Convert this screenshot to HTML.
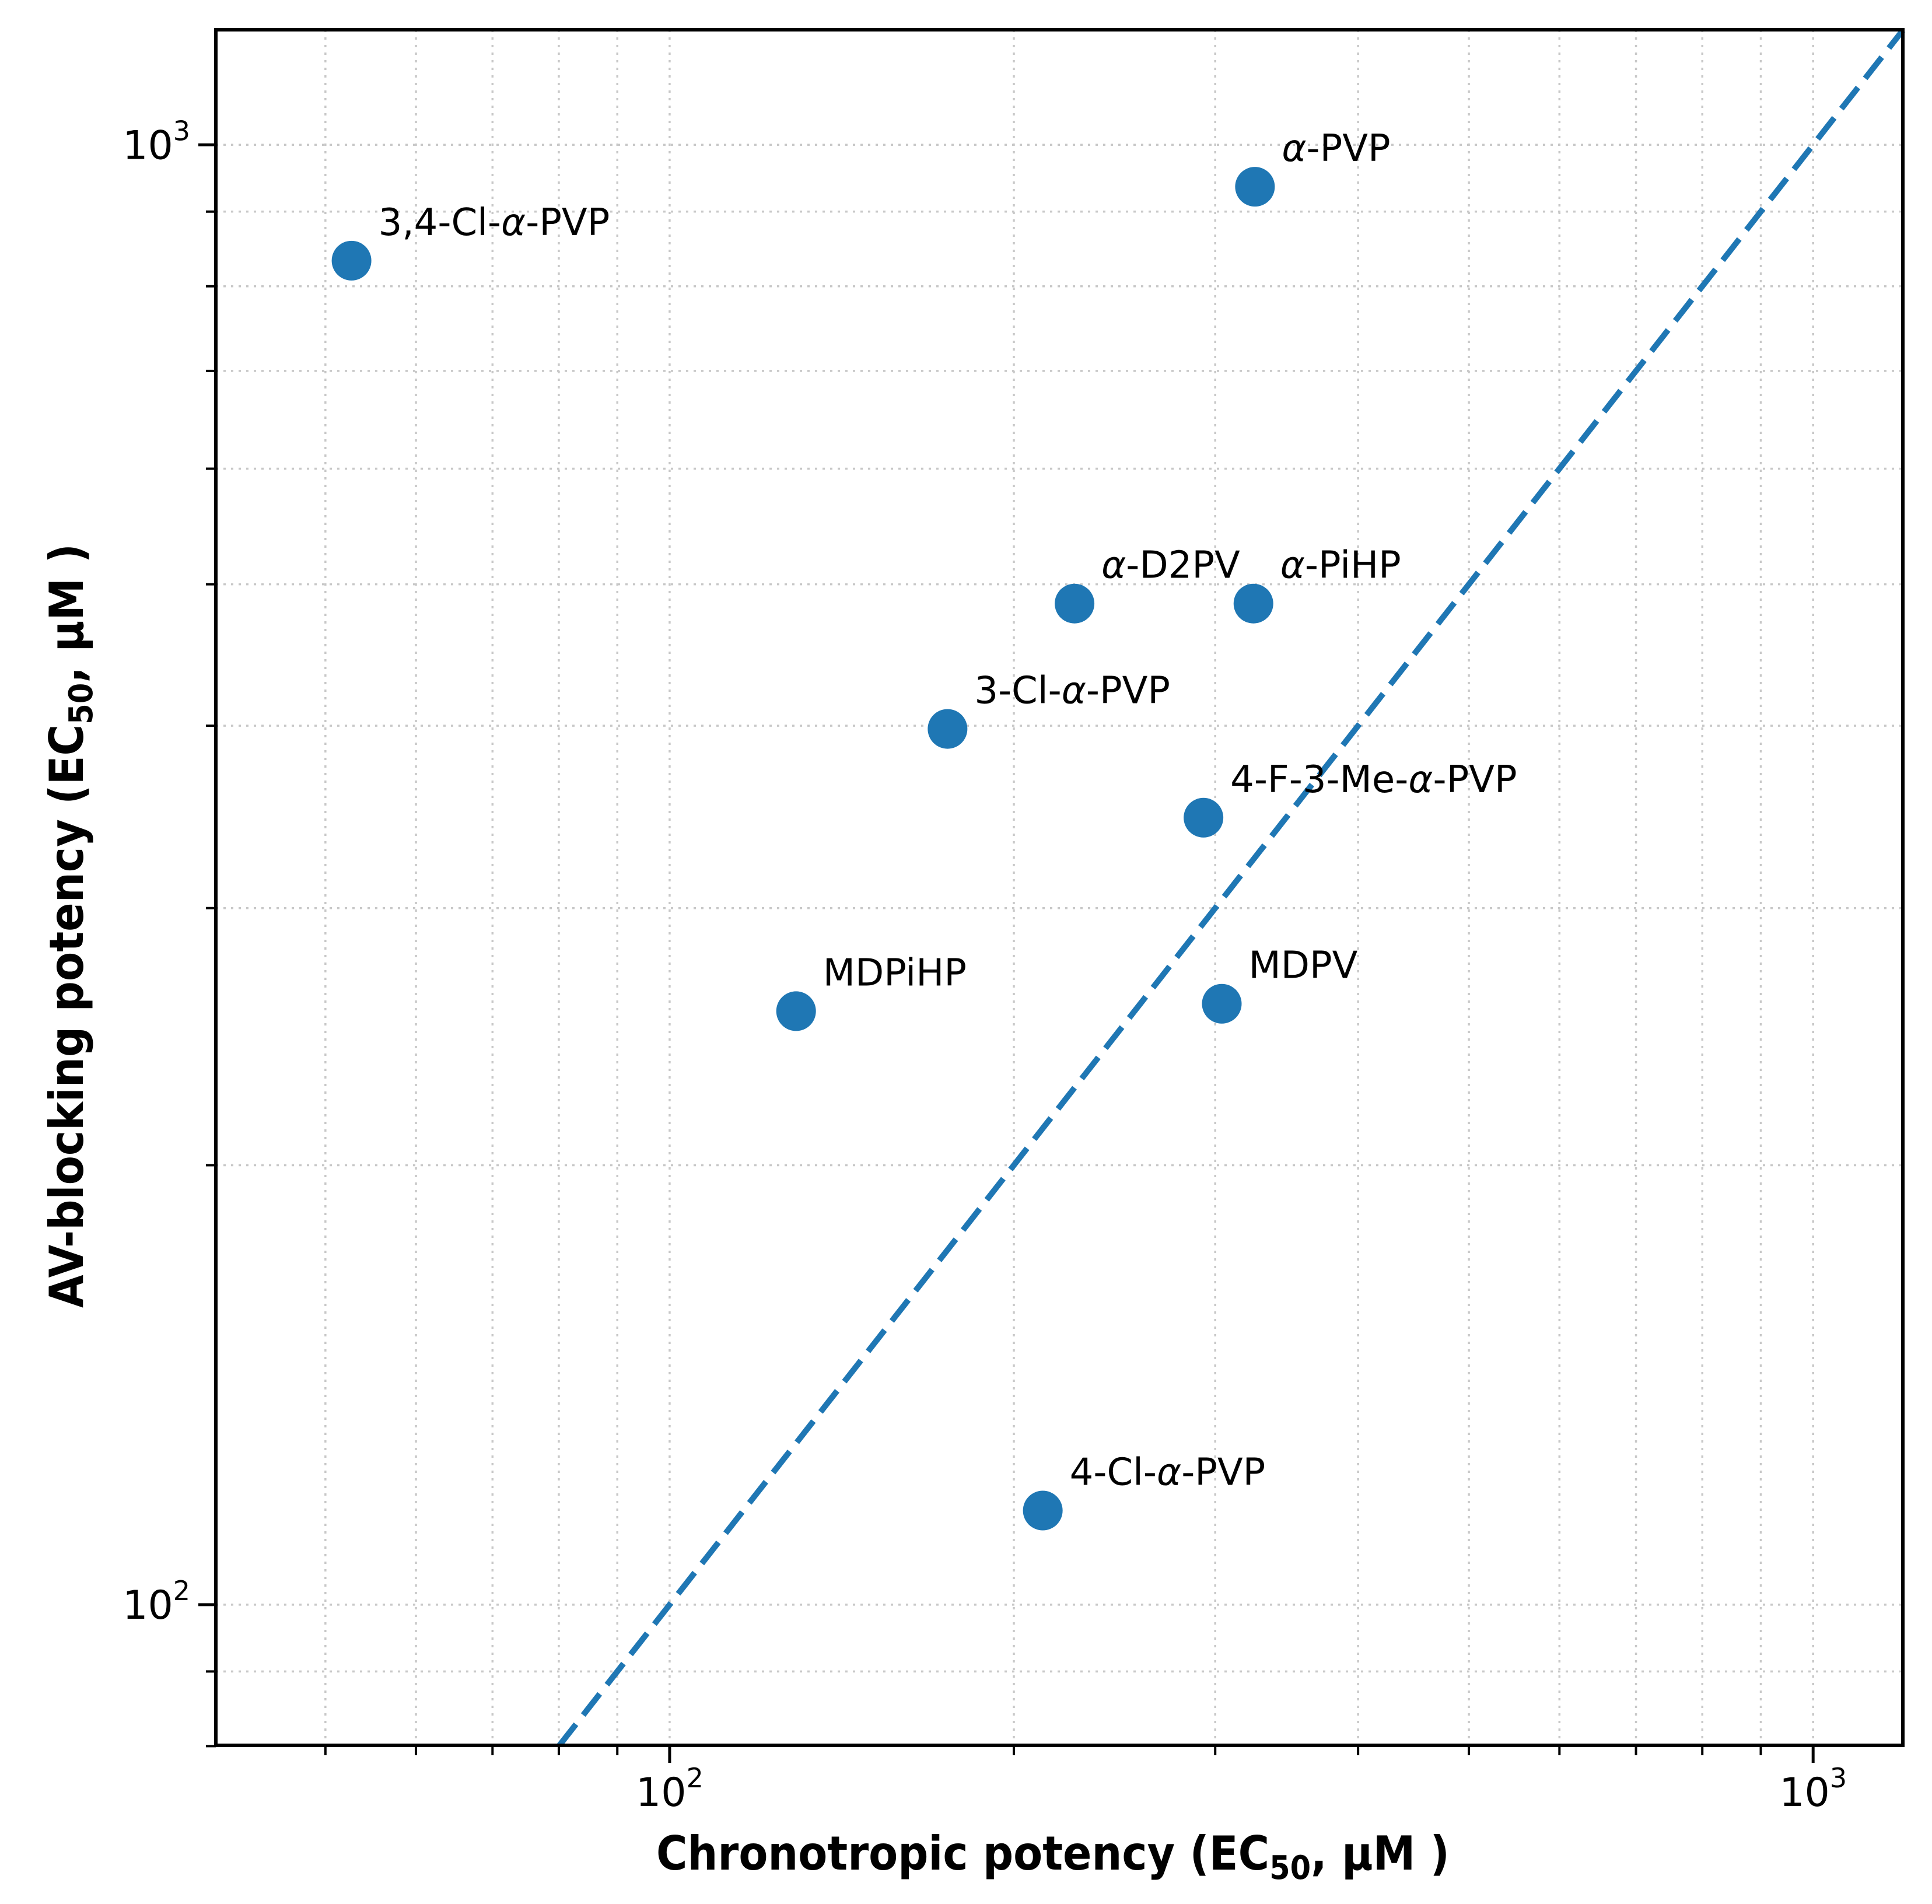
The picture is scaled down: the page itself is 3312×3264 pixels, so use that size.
<!DOCTYPE html>
<html><head><meta charset="utf-8"><style>
html,body{margin:0;padding:0;background:#fff;}
svg{display:block;font-family:"DejaVu Sans","Liberation Sans",sans-serif;}
</style></head><body>
<svg id="chart" width="3312" height="3264" viewBox="0 0 3312 3264">
<g id="grid"></g>
<g id="diag"></g>
<g id="pts"></g>
<g id="ticks"></g>
<rect x="370" y="51" width="2892" height="2941" fill="none" stroke="#000" stroke-width="6"/>
<text x="1805" y="3205" text-anchor="middle" font-size="80" font-weight="bold" textLength="1360" lengthAdjust="spacingAndGlyphs">Chronotropic potency (EC<tspan font-size="56" dy="16">50</tspan><tspan dy="-16">, µM )</tspan></text>
<text transform="translate(142,1587) rotate(-90)" text-anchor="middle" font-size="80" font-weight="bold" textLength="1310" lengthAdjust="spacingAndGlyphs">AV-blocking potency (EC<tspan font-size="56" dy="16">50</tspan><tspan dy="-16">, µM )</tspan></text>
</svg>
<script>
const names = ["3,4-Cl-α-PVP","α-PVP","α-D2PV","α-PiHP","3-Cl-α-PVP","4-F-3-Me-α-PVP","MDPiHP","MDPV","4-Cl-α-PVP"];
const chronoValues = [52.7,325,226,324,175,293,129,304,212];
const avValues = [833,936,485,485,398,346,255,258,116];
const xMajorTicks = [100,1000];
const yMajorTicks = [100,1000];
const xMinorTicks = [50,60,70,80,90,200,300,400,500,600,700,800,900];
const yMinorTicks = [80,90,200,300,400,500,600,700,800,900];
const xDomain = [40.1,1198];
const yDomain = [80.1,1199];

const NS="http://www.w3.org/2000/svg";
const L=370,R=3262,T=51,B=2992;
function sx(v){return L+(Math.log10(v)-Math.log10(xDomain[0]))/(Math.log10(xDomain[1])-Math.log10(xDomain[0]))*(R-L);}
function sy(v){return B-(Math.log10(v)-Math.log10(yDomain[0]))/(Math.log10(yDomain[1])-Math.log10(yDomain[0]))*(B-T);}
function mk(tag,attrs,parent){const e=document.createElementNS(NS,tag);for(const k in attrs)e.setAttribute(k,attrs[k]);parent.appendChild(e);return e;}
const grid=document.getElementById('grid'),ticks=document.getElementById('ticks'),pts=document.getElementById('pts'),diag=document.getElementById('diag');

xMajorTicks.concat(xMinorTicks).forEach(v=>{
  const x=sx(v);
  const g=mk('line',{x1:x,x2:x,y1:T,y2:B,stroke:'#c8c8c8','stroke-width':3.5,'stroke-dasharray':'4 9'},grid);
  
  
  const major=xMajorTicks.includes(v);
  const t=mk('line',{x1:x,x2:x,y1:B,y2:B+(major?30:17),stroke:'#000','stroke-width':major?5:4},ticks);
  
  
  if(major){
    const tx=mk('text',{x:x,y:B+104,'text-anchor':'middle','font-size':68},ticks);
    
    
    tx.innerHTML='10<tspan font-size="46" dy="-32">'+Math.round(Math.log10(v))+'</tspan>';
  }
});
yMajorTicks.concat(yMinorTicks).forEach(v=>{
  const y=sy(v);
  const g=mk('line',{x1:L,x2:R,y1:y,y2:y,stroke:'#c8c8c8','stroke-width':3.5,'stroke-dasharray':'4 9'},grid);
  
  
  const major=yMajorTicks.includes(v);
  const t=mk('line',{x1:L-(major?30:17),x2:L,y1:y,y2:y,stroke:'#000','stroke-width':major?5:4},ticks);
  
  
  if(major){
    const tx=mk('text',{x:L-44,y:y+24,'text-anchor':'end','font-size':68},ticks);
    
    
    tx.innerHTML='10<tspan font-size="46" dy="-32">'+Math.round(Math.log10(v))+'</tspan>';
  }
});
const lo=Math.max(xDomain[0],yDomain[0]),hi=Math.min(xDomain[1],yDomain[1]);
const dl=mk('line',{x1:sx(lo),y1:sy(lo),x2:sx(hi),y2:sy(hi),stroke:'#1f77b4','stroke-width':10,'stroke-dasharray':'46 20'},diag);



names.forEach((n,i)=>{
  const cx=sx(chronoValues[i]),cy=sy(avValues[i]);
  const c=mk('circle',{cx:cx,cy:cy,r:34,fill:'#1f77b4'},pts);
  
  
  const t=mk('text',{x:cx+46,y:cy-44,'font-size':64},pts);
  
  
  t.innerHTML=n.replace(/α/g,'<tspan font-style="italic">α</tspan>');
});
</script>
</body></html>
